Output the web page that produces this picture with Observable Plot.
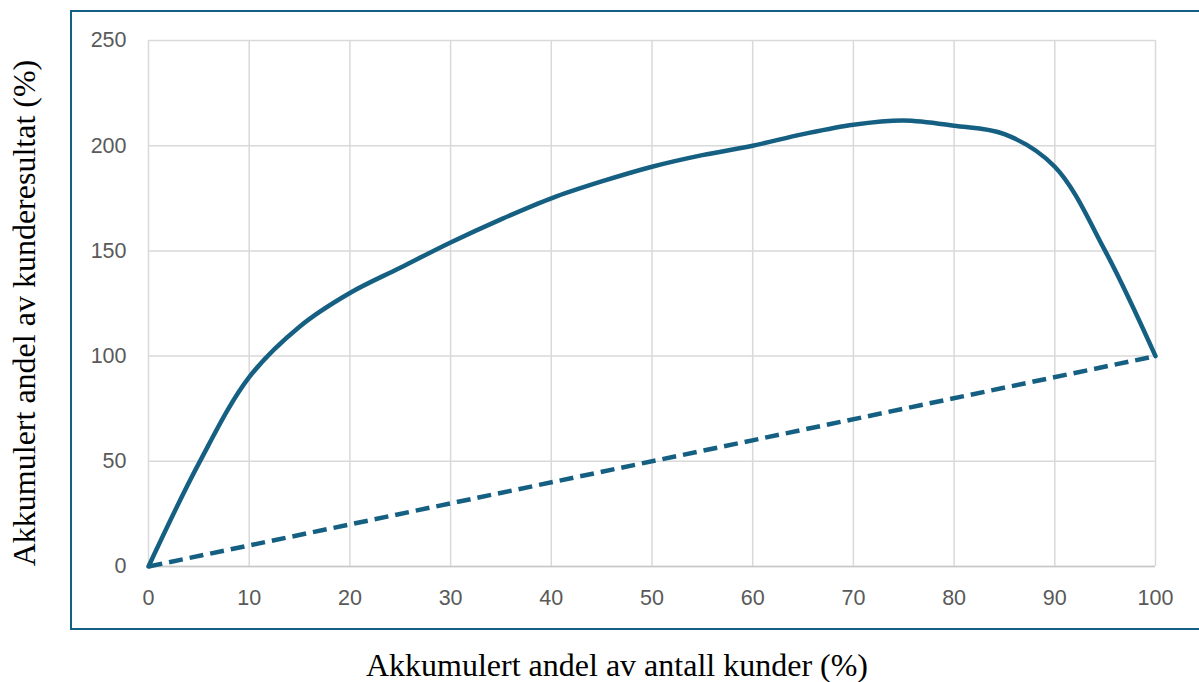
<!DOCTYPE html>
<html>
<head>
<meta charset="utf-8">
<script src="https://cdn.jsdelivr.net/npm/d3@7"></script>
<script src="https://cdn.jsdelivr.net/npm/@observablehq/plot@0.6"></script>
<style>
  html, body { margin: 0; padding: 0; background: #ffffff; }
  #wrap { position: relative; width: 1199px; height: 682px; overflow: hidden; background: #ffffff; }
  #frame { position: absolute; left: 70px; top: 10px; width: 1140px; height: 620px; border: 2px solid #156082; box-sizing: border-box; }
  #chart { position: absolute; left: 0; top: 0; }
  .axis-title { position: absolute; font-family: "Times New Roman", "Liberation Serif", serif; font-size: 32px; line-height: 1; color: #000; white-space: nowrap; }
  #xtitle { left: 617px; top: 665px; transform: translate(-50%, -50%); }
  #ytitle { left: 24px; top: 313px; transform: translate(-50%, -50%) rotate(-90deg); }
</style>
</head>
<body>
<div id="wrap">
  <div id="frame"></div>
  <div id="chart"></div>
  <div class="axis-title" id="xtitle">Akkumulert andel av antall kunder (%)</div>
  <div class="axis-title" id="ytitle">Akkumulert andel av kunderesultat (%)</div>
</div>
<script>
// Accumulated share of customers (%)
const customerShare = [0, 5, 10, 15, 20, 25, 30, 35, 40, 45, 50, 55, 60, 65, 70, 75, 80, 85, 90, 95, 100];
// Accumulated share of customer result (%)
const resultShare = [0, 49, 90, 114, 130, 142, 154, 165, 175, 183, 190, 195.5, 200, 205.5, 210, 212, 209.5, 205.5, 190, 150, 100];
// Reference (diagonal) line
const diagonalX = [0, 100];
const diagonalY = [0, 100];
// Tick labels
const xTicks = [0, 10, 20, 30, 40, 50, 60, 70, 80, 90, 100];
const yTicks = [0, 50, 100, 150, 200, 250];

const curveData = customerShare.map((x, i) => ({x, y: resultShare[i]}));
const diagData = diagonalX.map((x, i) => ({x, y: diagonalY[i]}));

const color = "#156082";
const tickFont = "Aptos, 'Liberation Sans', Arial, sans-serif";

const chart = Plot.plot({
  width: 1199,
  height: 682,
  marginLeft: 148,
  marginRight: 44,
  marginTop: 40,
  marginBottom: 116,
  style: {fontFamily: tickFont, fontSize: "21.5px", color: "#595959", background: "transparent"},
  x: {domain: [0, 100], label: null},
  y: {domain: [0, 250], label: null},
  marks: [
    Plot.gridX(xTicks, {stroke: "#d9d9d9", strokeOpacity: 1, strokeWidth: 1.5}),
    Plot.gridY(yTicks, {stroke: "#d9d9d9", strokeOpacity: 1, strokeWidth: 1.5}),
    Plot.ruleY([0], {stroke: "#c8c8c8", strokeWidth: 1.5}),
    Plot.line(diagData, {x: "x", y: "y", stroke: color, strokeWidth: 4.5, strokeDasharray: "14,7", strokeLinecap: "butt"}),
    Plot.line(curveData, {x: "x", y: "y", stroke: color, strokeWidth: 4.5, curve: "catmull-rom"}),
    Plot.axisX(xTicks, {tickSize: 0, tickPadding: 23, fill: "#595959", fontSize: 21.5, label: null}),
    Plot.axisY(yTicks, {tickSize: 0, tickPadding: 22, fill: "#595959", fontSize: 21.5, label: null})
  ]
});
document.getElementById("chart").appendChild(chart);
</script>
</body>
</html>
